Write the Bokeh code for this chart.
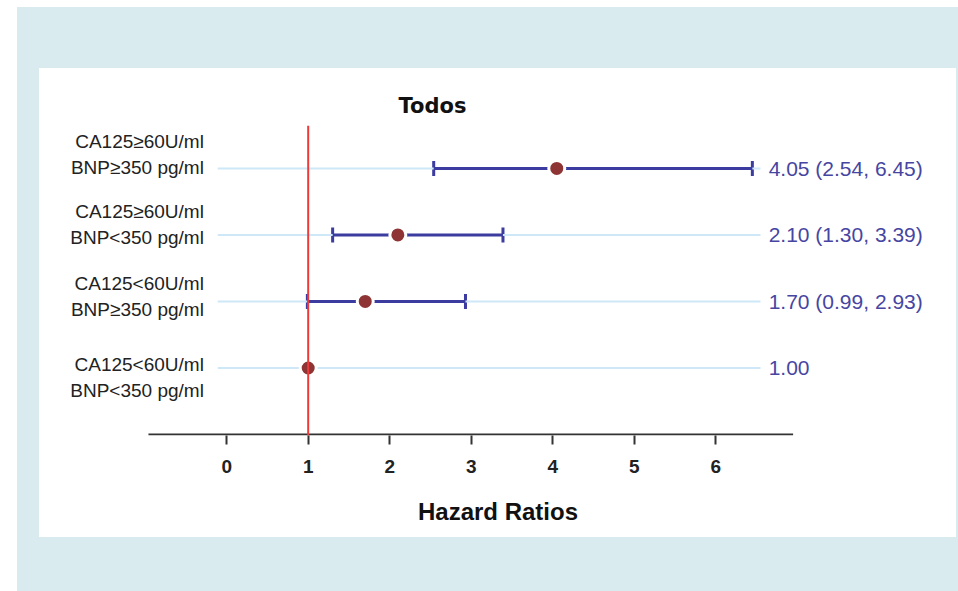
from bokeh.plotting import figure
from bokeh.models import Range1d, ColumnDataSource, Span, Whisker, TeeHead, FixedTicker
from bokeh.layouts import column
from bokeh.core.properties import value
from bokeh.embed import file_html
from bokeh.resources import INLINE

# ---- data ----
label_line1 = ["CA125≥60U/ml", "CA125≥60U/ml", "CA125<60U/ml", "CA125<60U/ml"]
label_line2 = ["BNP≥350 pg/ml", "BNP<350 pg/ml", "BNP≥350 pg/ml", "BNP<350 pg/ml"]
rows = [4, 3, 2, 1]
hazard = [4.05, 2.10, 1.70, 1.00]
lower = [2.54, 1.30, 0.99]
upper = [6.45, 3.39, 2.93]
x_ticks = [0, 1, 2, 3, 4, 5, 6]

def fmt(h, lo=None, up=None):
    if lo is None:
        return f"{h:.2f}"
    return f"{h:.2f} ({lo:.2f}, {up:.2f})"

right_text = [fmt(hazard[i], lower[i], upper[i]) for i in range(3)] + [fmt(hazard[3])]

TEAL = "#d9ebee"
BLUE = "#3b3ba0"
DOT = "#8e3434"
AXIS_MIN, AXIS_MAX = -0.96, 6.95   # drawn extent of the x axis line

p = figure(width=917, height=469, x_range=Range1d(-2.297, 8.955), y_range=Range1d(-0.015, 4.645),
           output_backend="svg", toolbar_location=None, y_axis_location=None,
           min_border_left=0, min_border_right=0, min_border_top=57, min_border_bottom=102,
           title="Todos")
p.margin = (61, 2, 54, 22)
p.grid.visible = False
p.outline_line_color = None
p.background_fill_color = None
p.border_fill_color = None
p.styles = {"background-color": "white"}

p.title.text_font = "DejaVu Sans"
p.title.text_font_size = "21px"
p.title.text_font_style = "bold"
p.title.text_color = "#111111"
p.title.align = "left"
p.title.offset = 359
p.title.standoff = 16

ax = p.xaxis[0]
ax.ticker = FixedTicker(ticks=x_ticks)
ax.minor_tick_line_color = None
ax.major_tick_out = 9
ax.major_tick_in = 0
ax.major_tick_line_color = "#333333"
ax.major_tick_line_width = 2
ax.axis_line_color = None
ax.major_label_text_font = "Liberation Sans"
ax.major_label_text_font_style = "bold"
ax.major_label_text_font_size = "19px"
ax.major_label_text_color = "#222222"
ax.major_label_standoff = 15
ax.axis_label = "Hazard Ratios"
ax.axis_label_text_font = "Liberation Sans"
ax.axis_label_text_font_style = "bold"
ax.axis_label_text_font_size = "24px"
ax.axis_label_text_color = "#111111"
ax.axis_label_standoff = 22

# axis line over the value range
p.segment(x0=AXIS_MIN, x1=AXIS_MAX, y0=0, y1=0, line_color="#333333", line_width=2)

# light row lines
p.segment(x0=-0.11, x1=6.55, y0=rows, y1=rows, line_color="#cfe8f8", line_width=2)

# reference line at HR = 1
p.add_layout(Span(location=1, dimension="height", line_color="#f03a3a", line_width=2))

# confidence intervals
ci = ColumnDataSource(dict(y=rows[:3], lower=lower, upper=upper))
p.segment(x0="lower", x1="upper", y0="y", y1="y", source=ci, line_color=BLUE, line_width=3)
w = Whisker(base="y", lower="lower", upper="upper", source=ci, dimension="width",
            line_color=BLUE, line_width=3, line_alpha=0,
            lower_head=TeeHead(size=15, line_color=BLUE, line_width=3),
            upper_head=TeeHead(size=15, line_color=BLUE, line_width=3))
p.add_layout(w)

# point estimates
p.scatter(x=hazard, y=rows, size=16, fill_color=DOT, line_color="white", line_width=3)

# right-hand text
p.text(x=6.65, y=rows, text=right_text, text_font=value("Liberation Sans"), text_font_size="21px",
       text_color="#4646a2", text_baseline="middle", text_align="left")

# left labels (offsets in screen pixels, positive = down)
shift = [-14, -10, -5, 10]
lab = ColumnDataSource(dict(y=rows, l1=label_line1, l2=label_line2,
                            o1=[s - 13 for s in shift], o2=[s + 13 for s in shift]))
for col_t, col_o in (("l1", "o1"), ("l2", "o2")):
    p.text(x=-0.28, y="y", text=col_t, y_offset=col_o, source=lab,
           text_font=value("Liberation Sans"), text_font_size="19px",
           text_color="#222222", text_baseline="middle", text_align="right")

layout = column(p, width=941, height=584, margin=(7, 0, 0, 17),
                styles={"background-color": TEAL})

open("out.html", "w").write(file_html(layout, INLINE))
